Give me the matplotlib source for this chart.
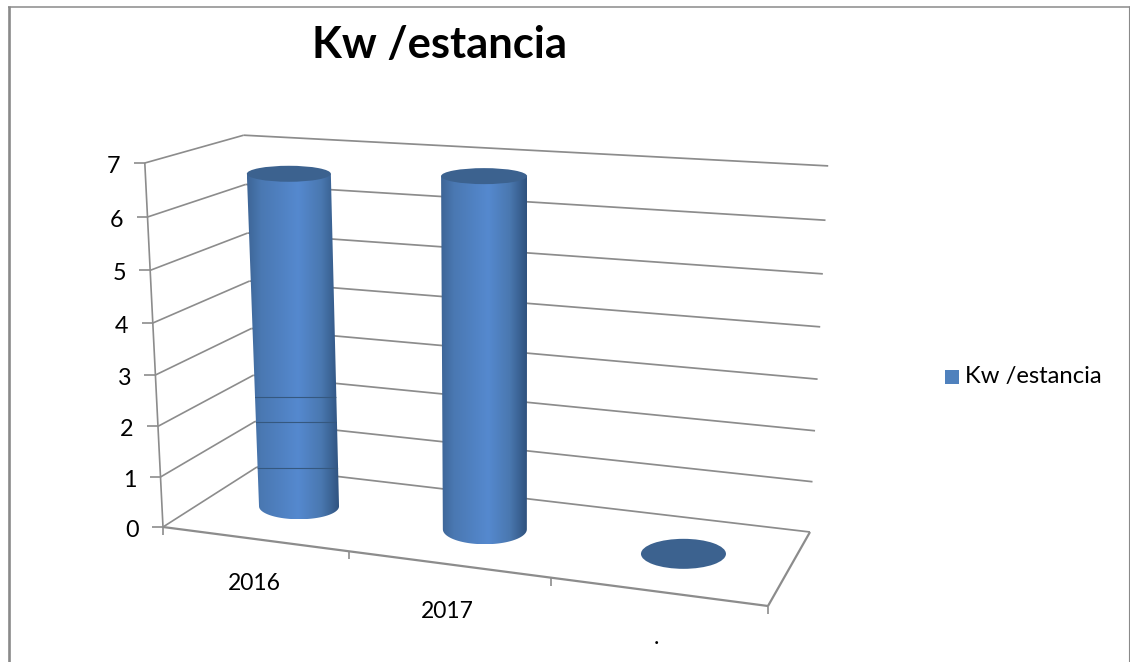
import numpy as np
import matplotlib
matplotlib.use("Agg")
import matplotlib.pyplot as plt
from matplotlib.colors import LinearSegmentedColormap
from matplotlib.patches import Polygon, Ellipse, Rectangle

#chart data
categories = ["2016", "2017", "."]
values = [6.6, 6.78, 0]
y_ticks = [0, 1, 2, 3, 4, 5, 6, 7]
y_max = 7
title = "Kw /estancia"

#picture geometry in pixels, floor corners of the 3d box
front_left = (163, 527)
back_left = (257, 467)
back_right = (810, 532)
front_right = (768, 606)
#how one axis unit looks (dx, dy) at each of those corners
unit_fl = (-2.6, -52.0)
unit_bl = (-1.9, -47.4)
unit_br = (2.6, -52.3)
unit_fr = (1.5, -57.0)

grey = "#8c8c8c"
blue = "#4f81bd"
cap_blue = "#3c628f"

plt.rcParams["font.family"] = ["Lato", "DejaVu Sans"]

#floor homography, unit square to the four corners
src = [(0, 0), (0, 1), (1, 1), (1, 0)]
dst = [front_left, back_left, back_right, front_right]
A = []
b = []
for (u, d), (x, y) in zip(src, dst):
    A.append([u, d, 1, 0, 0, 0, -u * x, -d * x])
    A.append([0, 0, 0, u, d, 1, -u * y, -d * y])
    b += [x, y]
h = np.append(np.linalg.solve(np.array(A, float), np.array(b, float)), 1).reshape(3, 3)


def floor(u, d):
    p = h @ np.array([u, d, 1.0])
    return p[0] / p[2], p[1] / p[2]


def project(u, d, v):
    #the picture squeezes the lower units a little
    s = v * (1 - 0.045 * (1 - v / y_max))
    x, y = floor(u, d)
    ux = (1 - u) * ((1 - d) * unit_fl[0] + d * unit_bl[0]) + u * ((1 - d) * unit_fr[0] + d * unit_br[0])
    uy = (1 - u) * ((1 - d) * unit_fl[1] + d * unit_bl[1]) + u * ((1 - d) * unit_fr[1] + d * unit_br[1])
    return x + ux * s, y + uy * s


def line(ax, p, q, lw=1.2, color=grey, z=1):
    ax.plot([p[0], q[0]], [p[1], q[1]], color=color, lw=lw, zorder=z, solid_capstyle="butt")


fig = plt.figure(figsize=(11.3, 6.62), dpi=100)
ax = fig.add_axes([0, 0, 1, 1])

#outer frame, the bottom is cut off
line(ax, (9.3, 6), (9.3, 662), lw=1.9, color="#8a8a8a")
line(ax, (8, 6.8), (1130, 6.8), lw=1.1, color="#8a8a8a")
line(ax, (1129.3, 6), (1129.3, 662), lw=0.8, color="#8a8a8a")

ax.text(439, 45, title, fontsize=31.3, fontweight="bold", color="black", ha="center", va="center")

#walls and gridlines
for v in y_ticks:
    p_front = project(0, 0, v)
    p_back = project(0, 1, v)
    p_right = project(1, 1, v)
    line(ax, p_front, p_back)
    line(ax, p_back, p_right, lw=1.25)
    line(ax, (p_front[0] - 11, p_front[1]), p_front)
    ax.text(p_front[0] - 31, p_front[1] + 3.5, str(v), fontsize=16.8, ha="center", va="center")
line(ax, project(0, 0, 0), project(0, 0, y_max))

#floor front and right edges
line(ax, front_left, front_right, lw=1.6)
line(ax, front_right, back_right, lw=1.6)

#ticks under the floor and category labels
tick_fracs = [0, 0.33, 0.665, 1]
for f in tick_fracs:
    p = floor(f, 0)
    line(ax, p, (p[0], p[1] + 8))
label_pos = [(254, 584), (447, 611), (656, 638)]
for cat, pos in zip(categories, label_pos):
    ax.text(pos[0], pos[1], cat, fontsize=16.5, ha="center", va="center")

#cylinders
n = len(categories)
base_rx = [40, 42, 42.5]
top_rx = [42, 43, 42.5]
base_ry = [13, 15, 15]
top_ry = 8
t = np.linspace(0, np.pi, 60)
gradient_colors = LinearSegmentedColormap.from_list(
    "cyl", [(0, "#3d6596"), (0.15, "#4a78b2"), (0.55, "#5589cf"), (0.8, "#4a78b0"), (1, "#2f527e")])
grad = np.linspace(0, 1, 256).reshape(1, -1)
bodies = []

for i, val in enumerate(values):
    u = (i + 0.49) / n
    bx, by = project(u, 0.5, 0)
    tx, ty = project(u, 0.5, val)
    if val == 0:
        ax.add_patch(Ellipse((bx, by), 2 * base_rx[i], 2 * base_ry[i], color=cap_blue, lw=0, zorder=3))
        continue
    left = [(tx - top_rx[i], ty)]
    bottom = [(bx - base_rx[i] * np.cos(a), by + base_ry[i] * np.sin(a)) for a in t]
    right = [(tx + top_rx[i], ty)]
    body = Polygon(left + bottom + right, closed=True, transform=ax.transData, fc="none", ec="none")
    ax.add_patch(body)
    bodies.append(body)
    x0 = min(tx - top_rx[i], bx - base_rx[i])
    x1 = max(tx + top_rx[i], bx + base_rx[i])
    im = ax.imshow(grad, cmap=gradient_colors, extent=[x0, x1, by + base_ry[i], ty], aspect="auto", zorder=3)
    im.set_clip_path(body)
    ax.add_patch(Ellipse((tx, ty), 2 * top_rx[i], 2 * top_ry, color=cap_blue, lw=0, zorder=4))

#dark scan lines across the first cylinder
for y in [397, 422, 468]:
    scan = ax.plot([240, 350], [y, y], color="#35587f", lw=0.8, zorder=5)[0]
    scan.set_clip_path(bodies[0])

#legend
ax.add_patch(Rectangle((945, 370), 14, 14, color=blue, lw=0))
ax.text(965, 377, title, fontsize=17.2, ha="left", va="center")

ax.set_xlim(0, 1130)
ax.set_ylim(662, 0)
ax.axis("off")
fig.savefig("out.png", dpi=100, facecolor="white")
